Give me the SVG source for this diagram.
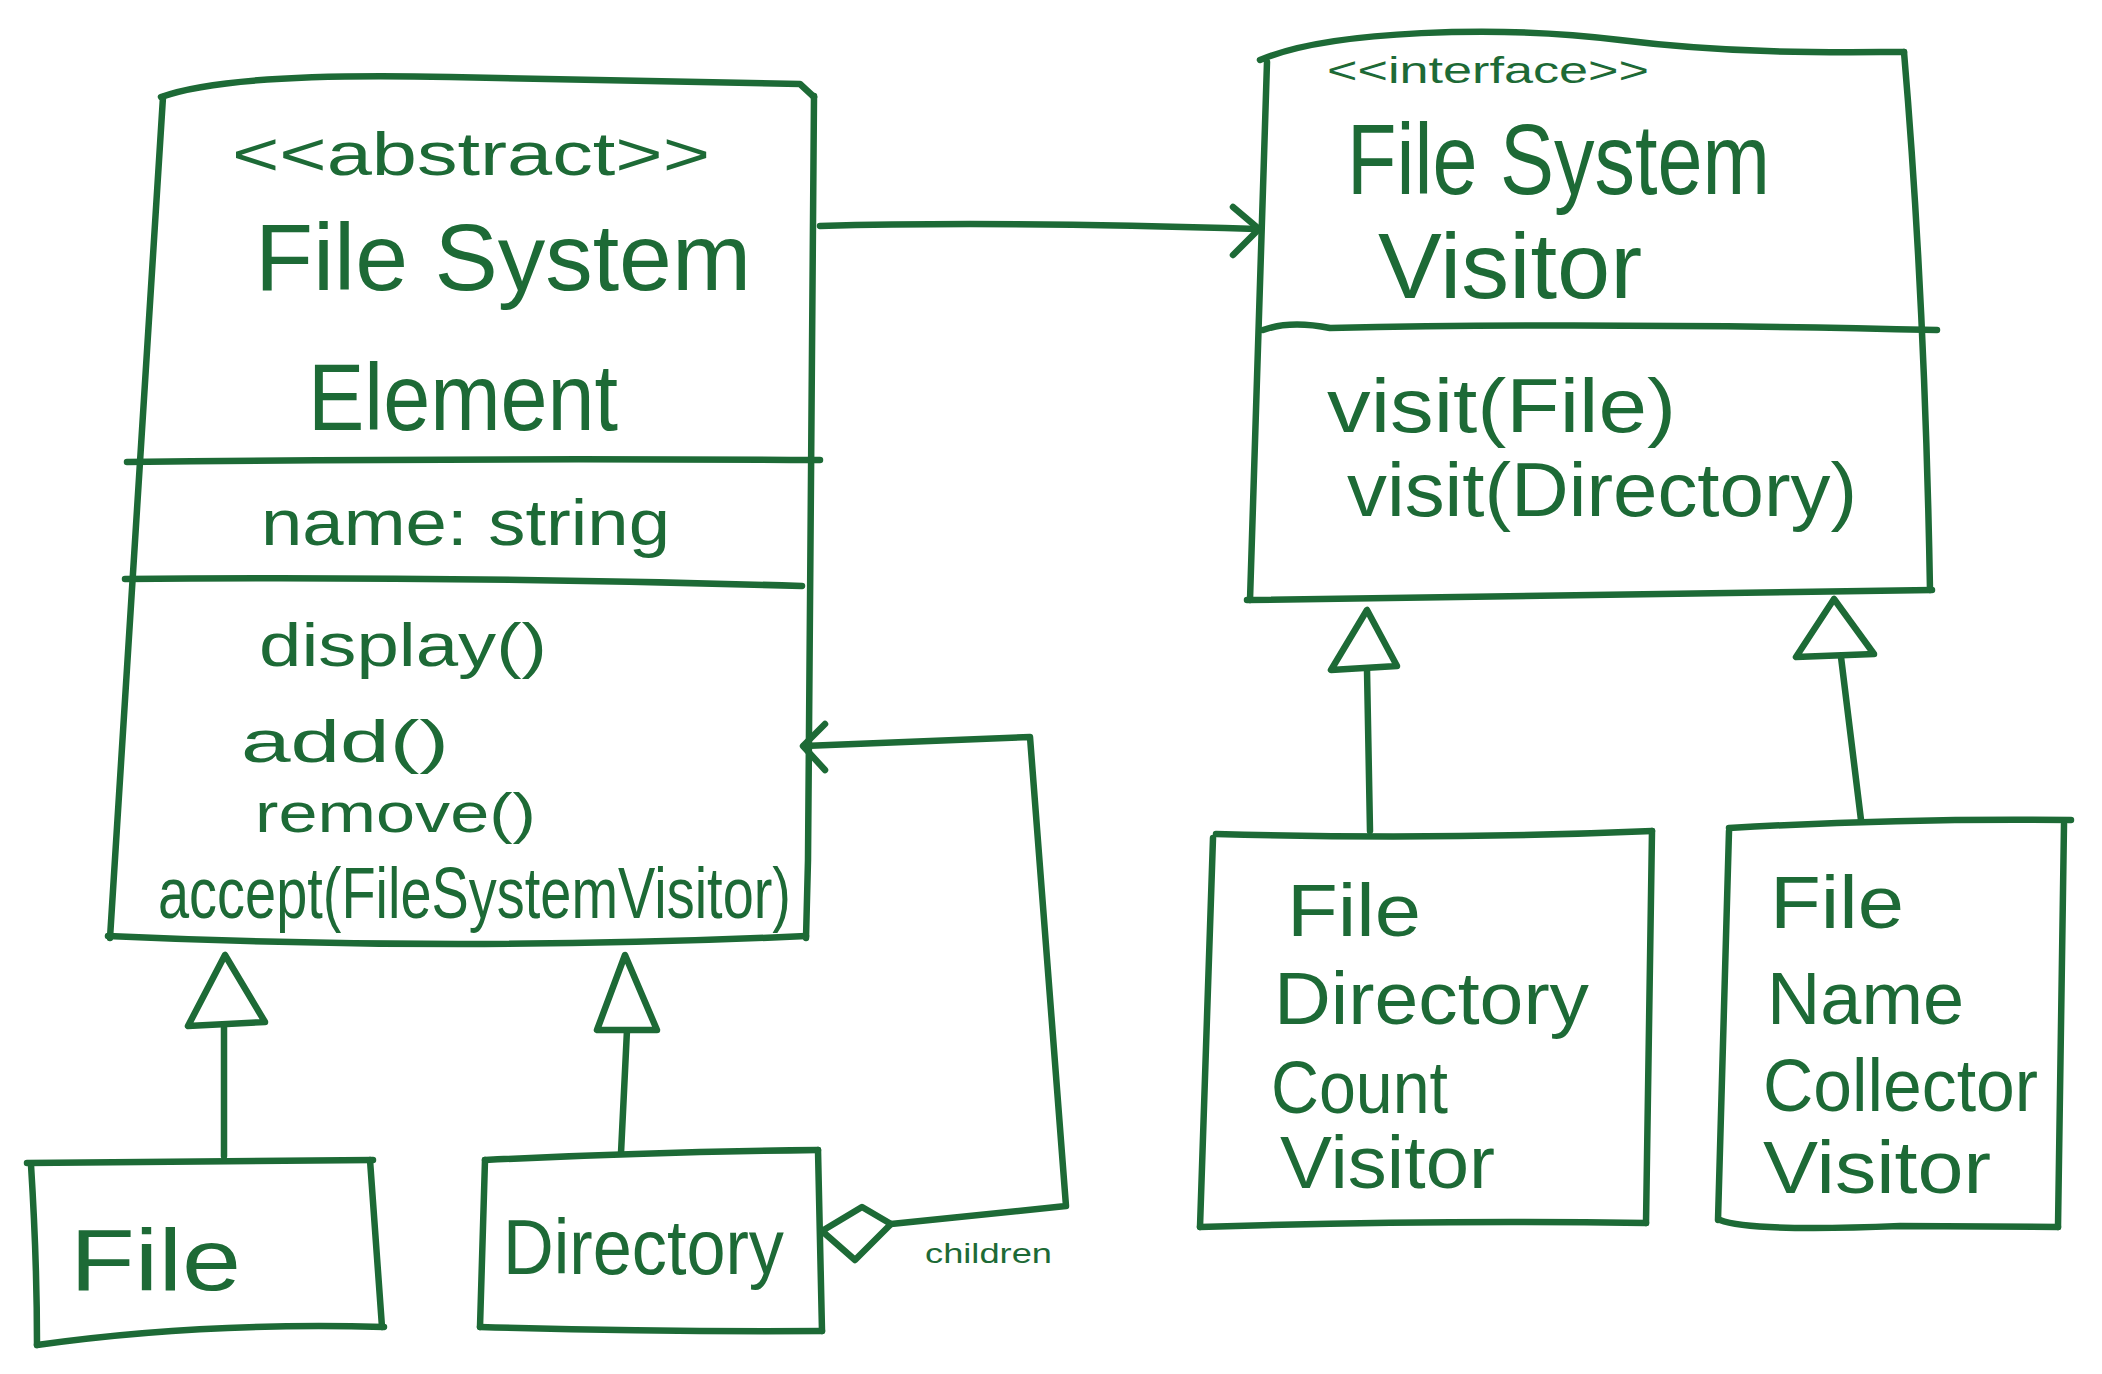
<svg xmlns="http://www.w3.org/2000/svg" width="2102" height="1374" viewBox="0 0 2102 1374">
<style>
.s{fill:none;stroke:#1d6a36;stroke-width:6.5;stroke-linecap:round;stroke-linejoin:round}
.h{fill:#fff;stroke:#1d6a36;stroke-width:6.5;stroke-linecap:round;stroke-linejoin:round}
.t{fill:#1d6a36;font-family:"Liberation Sans",Arial,sans-serif}
</style>
<rect width="2102" height="1374" fill="#fff"/>
<g id="connectors">
<path class="s" d="M820,226 Q1000,221 1257,229"/>
<path class="s" d="M1233,207 L1259,229 L1233,255"/>
<path class="s" d="M891,1224 L1066,1206 L1030,737 L804,746"/>
<path class="s" d="M825,724 L803,746 L825,770"/>
<path class="h" d="M822,1231 L862,1207 L891,1224 L855,1260 Z"/>
<text class="t" x="925" y="1263" font-size="28" textLength="127" lengthAdjust="spacingAndGlyphs">children</text>
<path class="s" d="M224,1156 L224,1026"/>
<path class="h" d="M225,955 L188,1026 L265,1022 Z"/>
<path class="s" d="M621,1153 L627,1030"/>
<path class="h" d="M625,955 L597,1030 L657,1030 Z"/>
<path class="s" d="M1370,831 L1367,670"/>
<path class="h" d="M1367,610 L1331,670 L1397,666 Z"/>
<path class="s" d="M1861,820 L1841,657"/>
<path class="h" d="M1834,599 L1796,657 L1874,654 Z"/>
</g>
<g id="FileSystemElement">
<path class="s" d="M161,97 Q230,72 450,77 T800,84 L814,97"/>
<path class="s" d="M163,97 L110,938"/>
<path class="s" d="M814,96 L808,860 L806,938"/>
<path class="s" d="M108,936 Q460,952 806,936"/>
<path class="s" d="M127,462 Q450,458 820,460"/>
<path class="s" d="M125,579 Q460,576 802,586"/>
<text class="t" x="232" y="175" font-size="62" textLength="478" lengthAdjust="spacingAndGlyphs">&lt;&lt;abstract&gt;&gt;</text>
<text class="t" x="255" y="290" font-size="95" textLength="496" lengthAdjust="spacingAndGlyphs">File System</text>
<text class="t" x="308" y="430" font-size="95" textLength="310" lengthAdjust="spacingAndGlyphs">Element</text>
<text class="t" x="261" y="545" font-size="64" textLength="409" lengthAdjust="spacingAndGlyphs">name: string</text>
<text class="t" x="259" y="666" font-size="62" textLength="288" lengthAdjust="spacingAndGlyphs">display()</text>
<text class="t" x="241" y="762" font-size="60" textLength="208" lengthAdjust="spacingAndGlyphs">add()</text>
<text class="t" x="255" y="832" font-size="56" textLength="281" lengthAdjust="spacingAndGlyphs">remove()</text>
<text class="t" x="158" y="918" font-size="72" textLength="633" lengthAdjust="spacingAndGlyphs">accept(FileSystemVisitor)</text>
</g>
<g id="FileSystemVisitor">
<path class="s" d="M1260,60 C1330,30 1500,25 1620,40 S1850,52 1904,52"/>
<path class="s" d="M1267,62 L1250,600"/>
<path class="s" d="M1904,52 Q1925,300 1930,590"/>
<path class="s" d="M1247,600 Q1600,594 1932,590"/>
<path class="s" d="M1263,330 Q1290,320 1330,328 Q1600,322 1937,330"/>
<text class="t" x="1327" y="83" font-size="36" textLength="322" lengthAdjust="spacingAndGlyphs">&lt;&lt;interface&gt;&gt;</text>
<text class="t" x="1347" y="194" font-size="100" textLength="423" lengthAdjust="spacingAndGlyphs">File System</text>
<text class="t" x="1378" y="298" font-size="92" textLength="264" lengthAdjust="spacingAndGlyphs">Visitor</text>
<text class="t" x="1327" y="432" font-size="76" textLength="349" lengthAdjust="spacingAndGlyphs">visit(File)</text>
<text class="t" x="1347" y="516" font-size="76" textLength="510" lengthAdjust="spacingAndGlyphs">visit(Directory)</text>
</g>
<g id="File">
<path class="s" d="M27,1163 L373,1160"/>
<path class="s" d="M31,1165 Q37,1260 37,1345"/>
<path class="s" d="M370,1160 L382,1327"/>
<path class="s" d="M37,1345 Q200,1322 384,1327"/>
<text class="t" x="70" y="1290" font-size="88" textLength="171" lengthAdjust="spacingAndGlyphs">File</text>
</g>
<g id="Directory">
<path class="s" d="M485,1160 Q650,1152 818,1150"/>
<path class="s" d="M485,1160 L480,1327"/>
<path class="s" d="M818,1150 L822,1331"/>
<path class="s" d="M480,1327 Q650,1332 822,1331"/>
<text class="t" x="503" y="1274" font-size="78" textLength="281" lengthAdjust="spacingAndGlyphs">Directory</text>
</g>
<g id="FileDirectoryCountVisitor">
<path class="s" d="M1216,834 Q1440,840 1652,831"/>
<path class="s" d="M1213,838 L1200,1227"/>
<path class="s" d="M1652,831 L1646,1223"/>
<path class="s" d="M1200,1227 Q1420,1220 1646,1223"/>
<text class="t" x="1287" y="936" font-size="74" textLength="134" lengthAdjust="spacingAndGlyphs">File</text>
<text class="t" x="1274" y="1024" font-size="74" textLength="315" lengthAdjust="spacingAndGlyphs">Directory</text>
<text class="t" x="1271" y="1113" font-size="74" textLength="177" lengthAdjust="spacingAndGlyphs">Count</text>
<text class="t" x="1280" y="1188" font-size="74" textLength="215" lengthAdjust="spacingAndGlyphs">Visitor</text>
</g>
<g id="FileNameCollectorVisitor">
<path class="s" d="M1729,828 Q1900,818 2071,820"/>
<path class="s" d="M1729,831 L1718,1220"/>
<path class="s" d="M2064,824 L2058,1227"/>
<path class="s" d="M1720,1220 Q1750,1232 1900,1226 L2058,1227"/>
<text class="t" x="1770" y="928" font-size="74" textLength="134" lengthAdjust="spacingAndGlyphs">File</text>
<text class="t" x="1767" y="1024" font-size="74" textLength="197" lengthAdjust="spacingAndGlyphs">Name</text>
<text class="t" x="1763" y="1111" font-size="74" textLength="275" lengthAdjust="spacingAndGlyphs">Collector</text>
<text class="t" x="1763" y="1193" font-size="74" textLength="228" lengthAdjust="spacingAndGlyphs">Visitor</text>
</g>
</svg>
